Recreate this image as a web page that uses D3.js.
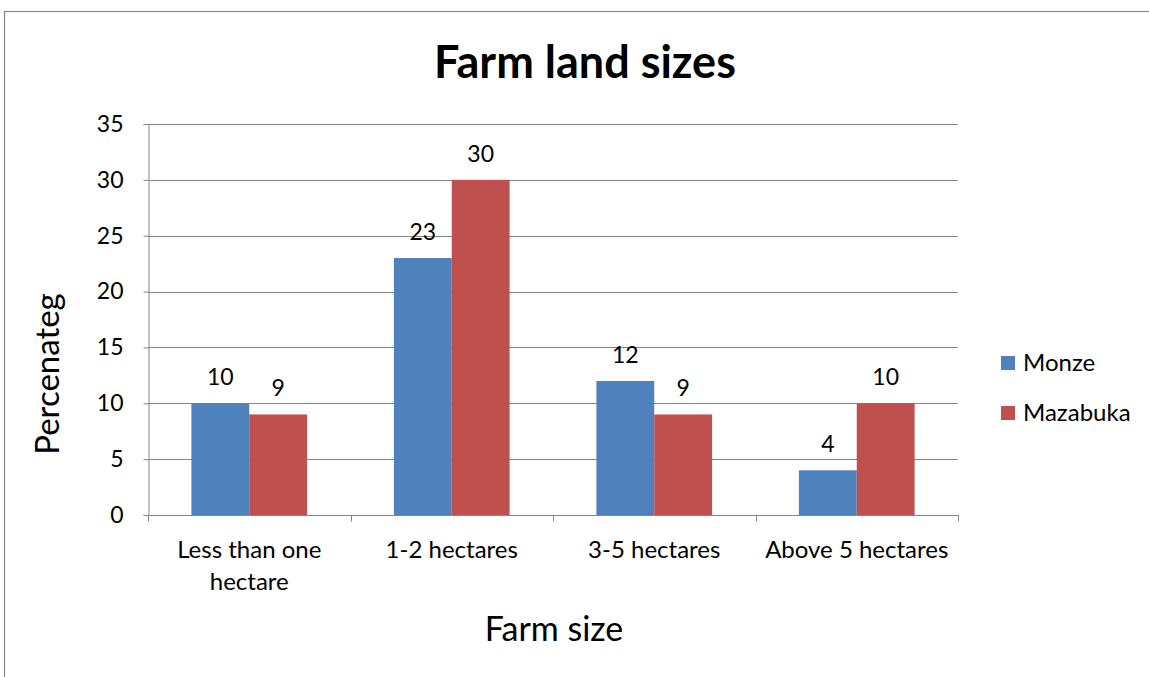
<!DOCTYPE html>
<html>
<head>
<meta charset="utf-8">
<script src="https://cdn.jsdelivr.net/npm/d3@7/dist/d3.min.js"></script>
<style>
  html, body { margin: 0; padding: 0; background: #fff; }
  svg { display: block; font-family: Lato, "Open Sans", "Liberation Sans", sans-serif; }
</style>
</head>
<body>
<svg id="chart" width="1149" height="677"></svg>
<script>
// Farm size categories and the share of farmers (%) in each district
const categories = ["Less than one hectare", "1-2 hectares", "3-5 hectares", "Above 5 hectares"];
const categoryLines = [["Less than one", "hectare"], ["1-2 hectares"], ["3-5 hectares"], ["Above 5 hectares"]];
const seriesNames = ["Monze", "Mazabuka"];
const monze = [10, 23, 12, 4];
const mazabuka = [9, 30, 9, 10];
const yTicks = [0, 5, 10, 15, 20, 25, 30, 35];
const colors = ["#4F81BD", "#C0504D"];

const svg = d3.select("#chart");

// outer chart frame
svg.append("rect")
  .attr("x", 4.5).attr("y", 11.5)
  .attr("width", 1200).attr("height", 700)
  .attr("fill", "none").attr("stroke", "#888").attr("stroke-width", 1.2);

const plot = { left: 148, right: 958, top: 124, bottom: 515 };

const x = d3.scaleBand().domain(categories).range([plot.left, plot.right]).paddingInner(0).paddingOuter(0);
const y = d3.scaleLinear().domain([0, 35]).range([plot.bottom, plot.top]);
const groupPad = x.bandwidth() * 1.5 / 3.5 / 2;
const xs = d3.scaleBand().domain(seriesNames).range([groupPad, x.bandwidth() - groupPad]);

const gridColor = "#868686";

// horizontal gridlines
svg.append("g").selectAll("line").data(yTicks.filter(d => d > 0)).join("line")
  .attr("x1", plot.left).attr("x2", plot.right)
  .attr("y1", d => Math.round(y(d)) + 0.5).attr("y2", d => Math.round(y(d)) + 0.5)
  .attr("stroke", gridColor).attr("stroke-width", 1);

// y axis
const yAxis = svg.append("g")
  .attr("transform", `translate(${plot.left + 0.5},0)`)
  .call(d3.axisLeft(y).tickValues(yTicks).tickSize(5).tickPadding(20));
yAxis.selectAll("path, line").attr("stroke", gridColor);
yAxis.selectAll("text").attr("font-size", 23).attr("fill", "#000")
  .attr("font-family", "Lato, 'Open Sans', sans-serif");

// bars
const rows = categories.map((c, i) => ({ cat: c, values: [monze[i], mazabuka[i]] }));
const groups = svg.append("g").selectAll("g").data(rows).join("g")
  .attr("transform", d => `translate(${x(d.cat)},0)`);
groups.selectAll("rect").data(d => d.values.map((v, j) => ({ name: seriesNames[j], v, j }))).join("rect")
  .attr("x", d => xs(d.name))
  .attr("width", xs.bandwidth())
  .attr("y", d => y(d.v))
  .attr("height", d => y(0) - y(d.v))
  .attr("fill", d => colors[d.j]);

// value labels above bars
groups.selectAll("text").data(d => d.values.map((v, j) => ({ name: seriesNames[j], v, j }))).join("text")
  .attr("x", d => xs(d.name) + xs.bandwidth() / 2)
  .attr("y", d => y(d.v) - 18)
  .attr("text-anchor", "middle")
  .attr("font-size", 23)
  .attr("fill", "#000")
  .text(d => d.v);

// x axis
const xAxis = svg.append("g")
  .attr("transform", `translate(0,${plot.bottom + 0.5})`);
xAxis.append("line").attr("x1", plot.left).attr("x2", plot.right + 1)
  .attr("stroke", gridColor);
const boundaries = categories.map(c => x(c)).concat([plot.right]);
xAxis.selectAll("line.tick").data(boundaries).join("line").attr("class", "tick")
  .attr("x1", d => Math.round(d) + 0.5).attr("x2", d => Math.round(d) + 0.5)
  .attr("y1", 0).attr("y2", 6).attr("stroke", gridColor);

const catLabels = svg.append("g").selectAll("text").data(categories).join("text")
  .attr("x", d => x(d) + x.bandwidth() / 2)
  .attr("y", 558)
  .attr("text-anchor", "middle")
  .attr("font-size", 24)
  .attr("fill", "#000");
catLabels.selectAll("tspan").data((d, i) => categoryLines[i]).join("tspan")
  .attr("x", function () { return d3.select(this.parentNode).attr("x"); })
  .attr("dy", (d, i) => i === 0 ? 0 : 32)
  .text(d => d);

// titles
svg.append("text").attr("x", 585).attr("y", 78).attr("text-anchor", "middle")
  .attr("font-size", 45).attr("font-weight", "bold").attr("fill", "#000")
  .text("Farm land sizes");
svg.append("text").attr("x", 554).attr("y", 641).attr("text-anchor", "middle")
  .attr("font-size", 34).attr("fill", "#000")
  .text("Farm size");
svg.append("text")
  .attr("transform", "translate(59,374) rotate(-90)")
  .attr("text-anchor", "middle")
  .attr("font-size", 33).attr("fill", "#000")
  .text("Percenateg");

// legend
const legend = svg.append("g").selectAll("g").data(seriesNames).join("g")
  .attr("transform", (d, i) => `translate(1001,${356 + i * 50})`);
legend.append("rect").attr("width", 14).attr("height", 14).attr("fill", (d, i) => colors[i]);
legend.append("text").attr("x", 22).attr("y", 15).attr("font-size", 24).attr("fill", "#000").text(d => d);
</script>
</body>
</html>
